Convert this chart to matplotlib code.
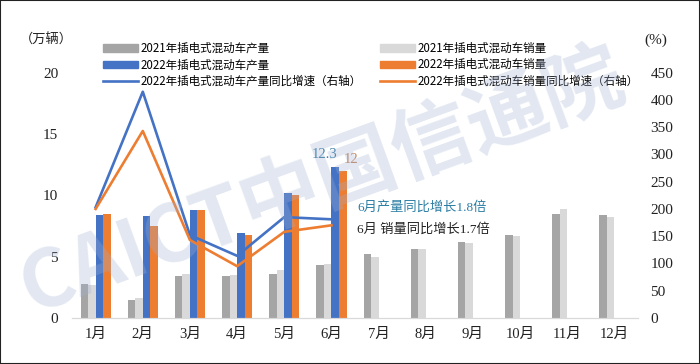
import numpy as np
import matplotlib
matplotlib.use("Agg")
import matplotlib.pyplot as plt
from matplotlib.patches import Patch, Rectangle
from matplotlib.lines import Line2D

plt.rcParams['font.family'] = ['Noto Sans CJK SC', 'DejaVu Sans']

months = ['1月', '2月', '3月', '4月', '5月', '6月', '7月', '8月', '9月', '10月', '11月', '12月']
prod21 = [2.8, 1.5, 3.4, 3.4, 3.6, 4.3, 5.2, 5.6, 6.2, 6.8, 8.5, 8.4]
sales21 = [2.7, 1.6, 3.6, 3.5, 3.9, 4.4, 5.0, 5.6, 6.1, 6.7, 8.9, 8.2]
prod22 = [8.4, 8.3, 8.8, 6.9, 10.2, 12.3]
sales22 = [8.5, 7.5, 8.8, 6.8, 10.0, 12.0]
prod_growth = [203, 415, 152, 114, 185, 181]
sales_growth = [200, 343, 143, 95, 158, 170]

c21p, c21s, c22p, c22s = '#A5A5A5', '#D9D9D9', '#4472C4', '#ED7D31'
num_font = ['Liberation Serif', 'Noto Sans CJK SC']

fig = plt.figure(figsize=(7, 3.64), dpi=100)
ax = fig.add_axes([0.1029, 0.1264, 0.8086, 0.674])
ax2 = ax.twinx()

x = np.arange(len(months))
x6 = x[:6]
w = 0.16
ax.bar(x - 1.5 * w, prod21, w, color=c21p)
ax.bar(x - 0.5 * w, sales21, w, color=c21s)
ax.bar(x6 + 0.5 * w, prod22, w, color=c22p)
ax.bar(x6 + 1.5 * w, sales22, w, color=c22s)

ax2.plot(x6, prod_growth, color=c22p, lw=1.9)
ax2.plot(x6, sales_growth, color=c22s, lw=1.9)

ax.set_xlim(-0.5, 11.5)
ax.set_ylim(0, 20)
ax2.set_ylim(0, 450)
ax.set_yticks(np.arange(0, 21, 5))
ax2.set_yticks(np.arange(0, 451, 50))
ax.set_xticks(x)
ax.set_xticklabels(months, family=num_font, fontsize=10.5)
for t in ax.get_yticklabels():
    t.set_family(num_font)
    t.set_fontsize(11)
for t in ax2.get_yticklabels():
    t.set_family(num_font)
    t.set_fontsize(11)
    t.set_horizontalalignment('left')
ax.tick_params(axis='both', length=0, pad=10, colors='#222222')
ax.tick_params(axis='x', pad=7)
ax2.tick_params(axis='y', length=0, pad=9, colors='#222222')
for a in (ax, ax2):
    for s in ['top', 'left', 'right']:
        a.spines[s].set_visible(False)
    a.spines['bottom'].set_color('#D9D9D9')

# value labels and notes
ax.text(5 + 0.5 * w + 0.05, 12.3 + 1.0, '12.3', family=num_font, fontsize=10.5,
        color='#3A7FA8', ha='right', va='center')
ax.text(5 + 1.5 * w + 0.02, 12.0 + 0.9, '12', family=num_font, fontsize=10.5,
        color='#C8845A', ha='left', va='center')
ax.text(5.55, 9.0, '6月产量同比增长1.8倍', family=num_font, fontsize=9.5,
        color='#2A7DA3', ha='left', va='center')
ax.text(5.55, 7.2, '6月 销量同比增长1.7倍', family=num_font, fontsize=9.5,
        color='#222222', ha='left', va='center')

fig.text(20 / 700, 1 - 40 / 364, '（万辆）', fontsize=9.5, ha='left', va='center', color='#222222')
fig.text(656 / 700, 1 - 40 / 364, '(%)', family=num_font, fontsize=11, ha='center', va='center', color='#222222')

handles = [Patch(color=c21p), Patch(color=c22p), Line2D([], [], color=c22p, lw=1.9),
           Patch(color=c21s), Patch(color=c22s), Line2D([], [], color=c22s, lw=1.9)]
labels = ['2021年插电式混动车产量', '2022年插电式混动车产量', '2022年插电式混动车产量同比增速（右轴）',
          '2021年插电式混动车销量', '2022年插电式混动车销量', '2022年插电式混动车销量同比增速（右轴）']
fig.legend(handles, labels, ncol=2, loc='upper left', bbox_to_anchor=(103 / 700, 1 - 42 / 364),
           bbox_transform=fig.transFigure, frameon=False, fontsize=8.3, borderpad=0,
           borderaxespad=0, handlelength=3.0, handleheight=0.6, handletextpad=0.25,
           labelspacing=0.28, columnspacing=1.6)

# watermark
fig.text(0.46, 0.50, 'CAICT中国信通院', fontsize=58, fontweight='bold', color='#9FB0D0',
         alpha=0.3, rotation=20, ha='center', va='center', style='italic', zorder=10)

fig.patches.append(Rectangle((0, 0), 1, 1, transform=fig.transFigure, fill=False,
                             edgecolor='#222222', lw=1.5))

fig.savefig('out.png', dpi=100)
